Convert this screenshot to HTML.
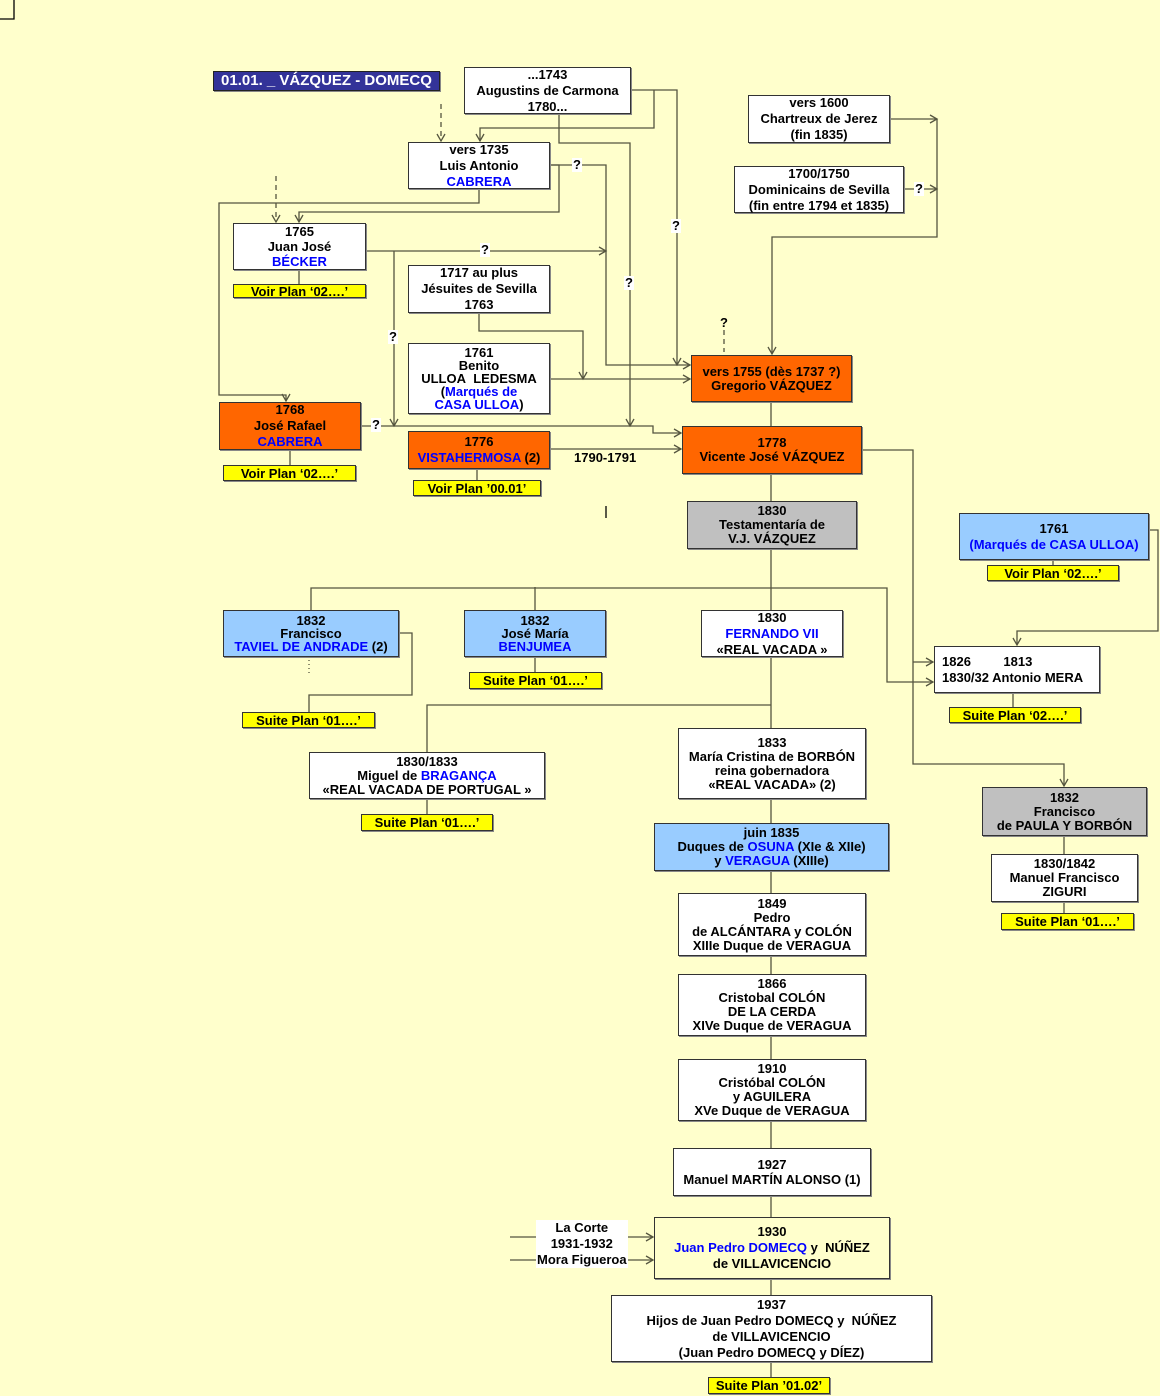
<!DOCTYPE html>
<html><head><meta charset="utf-8"><style>
body{margin:0;width:1160px;height:1396px;background:#ffffcc;position:relative;overflow:hidden;font-family:"Liberation Sans",Arial,sans-serif;font-weight:bold;font-size:13px;color:#000}
.b{position:absolute;box-sizing:border-box;border:1px solid #333;background:#fff;display:flex;justify-content:center;align-items:center;text-align:center;line-height:14px;white-space:nowrap;box-shadow:1px 1px 0 #888}
.o{background:#ff6600}.g{background:#c0c0c0}.c{background:#99ccff}.y{background:#ffff00;line-height:13px}.n{background:#ffffcc}
.u{color:#0000ff}
.q{position:absolute;background:#fff;font-size:13px;line-height:14px;padding:0 1px}
svg{position:absolute;left:0;top:0}
</style></head><body>
<svg width="1160" height="1396" fill="none" stroke="#55553f" stroke-width="1.3">
<defs><marker id="a" markerWidth="10" markerHeight="10" refX="8" refY="5" orient="auto" markerUnits="userSpaceOnUse"><path d="M1,1 L8,5 L1,9" stroke="#55553f" fill="none"/></marker></defs>
<path d="M0,19 H14 V0" stroke="#000"/>
<path d="M631,90 H677 V365" marker-end="url(#a)"/>
<path d="M654,90 V128 H480 V141" marker-end="url(#a)"/>
<path d="M559,114 V143 H630 V426" marker-end="url(#a)"/>
<path d="M441,104 V141" stroke-dasharray="5,4" marker-end="url(#a)"/>
<path d="M276,176 V222" stroke-dasharray="5,4" marker-end="url(#a)"/>
<path d="M550,165 H606 V365 H690" marker-end="url(#a)"/>
<path d="M550,165 H559 V212 H299 V222" marker-end="url(#a)"/>
<path d="M479,189 V203 H219 V395 H286 V401" marker-end="url(#a)"/>
<path d="M366,251 H606" marker-end="url(#a)"/>
<path d="M394,251 V426" marker-end="url(#a)"/>
<path d="M479,313 V331 H583 V379" marker-end="url(#a)"/>
<path d="M550,379 H690" marker-end="url(#a)"/>
<path d="M361,426 H653 V433 H681" marker-end="url(#a)"/>
<path d="M550,449 H681" marker-end="url(#a)"/>
<path d="M771,402 V426 M771,474 V501 M771,549 V610"/>
<path d="M890,119 H937" marker-end="url(#a)"/>
<path d="M904,189 H937" marker-end="url(#a)"/>
<path d="M937,119 V237 H772 V354" marker-end="url(#a)"/>
<path d="M724,330 V352" stroke-dasharray="5,4"/>
<path d="M606,506 V518" stroke="#000"/>
<path d="M862,450 H913 V764 H1064 V786" marker-end="url(#a)"/>
<path d="M311,610 V588 H887 V682 H933" marker-end="url(#a)"/>
<path d="M913,662 H933" marker-end="url(#a)"/>
<path d="M535,587 V610 M535,657 V672"/>
<path d="M1149,530 H1158 V631 H1017 V645" marker-end="url(#a)"/>
<path d="M399,633 H412 V695 H309 V712"/>
<path d="M309,660 V676" stroke-dasharray="1,3"/>
<path d="M771,657 V728 M771,705 H427 V752 M427,799 V814"/>
<path d="M771,799 V823 M771,871 V893 M771,956 V974 M771,1036 V1059 M771,1121 V1148 M771,1196 V1217 M771,1279 V1295 M771,1362 V1377"/>
<path d="M1013,693 V707 M1064,836 V854 M1064,902 V913 M1053,560 V565 M290,450 V465 M477,469 V480 M299,270 V284"/>
<path d="M510,1237 H653" marker-end="url(#a)"/>
<path d="M510,1260 H653" marker-end="url(#a)"/>
</svg>

<div class="b" style="left:213px;top:71px;width:227px;height:20px;background:#333399;color:#fff;font-size:15px;border-color:#222"><div>01.01. _ VÁZQUEZ - DOMECQ</div></div>
<div class="b" style="left:464px;top:67px;width:167px;height:47px;line-height:16px"><div>...1743<br>Augustins de Carmona<br>1780...</div></div>
<div class="b" style="left:408px;top:142px;width:142px;height:47px;line-height:16px"><div>vers 1735<br>Luis Antonio<br><span class="u">CABRERA</span></div></div>
<div class="b" style="left:748px;top:95px;width:142px;height:48px;line-height:16px"><div>vers 1600<br>Chartreux de Jerez<br>(fin 1835)</div></div>
<div class="b" style="left:734px;top:166px;width:170px;height:47px;line-height:16px"><div>1700/1750<br>Dominicains de Sevilla<br>(fin entre 1794 et 1835)</div></div>
<div class="b" style="left:233px;top:223px;width:133px;height:47px;line-height:15px"><div>1765<br>Juan José<br><span class="u">BÉCKER</span></div></div>
<div class="b y" style="left:233px;top:284px;width:133px;height:14px"><div>Voir Plan ‘02….’</div></div>
<div class="b" style="left:408px;top:265px;width:142px;height:48px;line-height:16px"><div>1717 au plus<br>Jésuites de Sevilla<br>1763</div></div>
<div class="b" style="left:408px;top:343px;width:142px;height:71px;line-height:13px"><div>1761<br>Benito<br>ULLOA&nbsp; LEDESMA<br>(<span class="u">Marqués de</span><br><span class="u">CASA ULLOA</span>)</div></div>
<div class="b o" style="left:691px;top:355px;width:161px;height:47px"><div>vers 1755 (dès 1737 ?)<br>Gregorio VÁZQUEZ</div></div>
<div class="b o" style="left:219px;top:402px;width:142px;height:48px;line-height:16px"><div>1768<br>José Rafael<br><span class="u">CABRERA</span></div></div>
<div class="b y" style="left:223px;top:465px;width:133px;height:16px"><div>Voir Plan ‘02….’</div></div>
<div class="b o" style="left:408px;top:431px;width:142px;height:38px;line-height:16px"><div>1776<br><span class="u">VISTAHERMOSA</span> (2)</div></div>
<div class="b y" style="left:413px;top:480px;width:128px;height:16px"><div>Voir Plan ’00.01’</div></div>
<div class="b o" style="left:682px;top:426px;width:180px;height:48px"><div>1778<br>Vicente José VÁZQUEZ</div></div>
<div class="b g" style="left:687px;top:501px;width:170px;height:48px"><div>1830<br>Testamentaría de<br>V.J. VÁZQUEZ</div></div>
<div class="b c" style="left:959px;top:513px;width:190px;height:47px;line-height:16px"><div>1761<br><span class="u">(Marqués de CASA ULLOA)</span></div></div>
<div class="b y" style="left:987px;top:565px;width:132px;height:16px"><div>Voir Plan ‘02….’</div></div>
<div class="b c" style="left:223px;top:610px;width:176px;height:47px;line-height:13px"><div>1832<br>Francisco<br><span class="u">TAVIEL DE ANDRADE</span> (2)</div></div>
<div class="b y" style="left:242px;top:712px;width:133px;height:16px"><div>Suite Plan ‘01….’</div></div>
<div class="b c" style="left:464px;top:610px;width:142px;height:47px;line-height:13px"><div>1832<br>José María<br><span class="u">BENJUMEA</span></div></div>
<div class="b y" style="left:469px;top:672px;width:133px;height:17px"><div>Suite Plan ‘01….’</div></div>
<div class="b" style="left:701px;top:610px;width:142px;height:47px;line-height:16px"><div>1830<br><span class="u">FERNANDO VII</span><br>«REAL VACADA »</div></div>
<div class="b" style="left:934px;top:646px;width:166px;height:47px;justify-content:flex-start;padding-left:7px;text-align:left;line-height:16px"><div>1826&nbsp;&nbsp;&nbsp;&nbsp;&nbsp;&nbsp;&nbsp;&nbsp; 1813<br>1830/32 Antonio MERA</div></div>
<div class="b y" style="left:949px;top:707px;width:132px;height:16px"><div>Suite Plan ‘02….’</div></div>
<div class="b" style="left:309px;top:752px;width:236px;height:47px;line-height:14px"><div>1830/1833<br>Miguel de <span class="u">BRAGANÇA</span><br>«REAL VACADA DE PORTUGAL »</div></div>
<div class="b y" style="left:361px;top:814px;width:132px;height:17px"><div>Suite Plan ‘01….’</div></div>
<div class="b" style="left:678px;top:728px;width:188px;height:71px;line-height:14px"><div>1833<br>María Cristina de BORBÓN<br>reina gobernadora<br>«REAL VACADA» (2)</div></div>
<div class="b g" style="left:982px;top:787px;width:165px;height:49px;line-height:14px"><div>1832<br>Francisco<br>de PAULA Y BORBÓN</div></div>
<div class="b" style="left:991px;top:854px;width:147px;height:48px;line-height:14px"><div>1830/1842<br>Manuel Francisco<br>ZIGURI</div></div>
<div class="b y" style="left:1001px;top:913px;width:133px;height:17px"><div>Suite Plan ‘01….’</div></div>
<div class="b c" style="left:654px;top:823px;width:235px;height:48px;line-height:14px"><div>juin 1835<br>Duques de <span class="u">OSUNA</span> (XIe &amp; XIIe)<br>y <span class="u">VERAGUA</span> (XIIIe)</div></div>
<div class="b" style="left:678px;top:893px;width:188px;height:63px;line-height:14px"><div>1849<br>Pedro<br>de ALCÁNTARA y COLÓN<br>XIIIe Duque de VERAGUA</div></div>
<div class="b" style="left:678px;top:974px;width:188px;height:62px;line-height:14px"><div>1866<br>Cristobal COLÓN<br>DE LA CERDA<br>XIVe Duque de VERAGUA</div></div>
<div class="b" style="left:678px;top:1059px;width:188px;height:62px;line-height:14px"><div>1910<br>Cristóbal COLÓN<br>y AGUILERA<br>XVe Duque de VERAGUA</div></div>
<div class="b" style="left:673px;top:1148px;width:198px;height:48px;line-height:15px"><div>1927<br>Manuel MARTÍN ALONSO (1)</div></div>
<div class="b n" style="left:654px;top:1217px;width:236px;height:62px;line-height:16px"><div>1930<br><span class="u">Juan Pedro DOMECQ</span> y&nbsp; NÚÑEZ<br>de VILLAVICENCIO</div></div>
<div class="b" style="left:611px;top:1295px;width:321px;height:67px;line-height:16px"><div>1937<br>Hijos de Juan Pedro DOMECQ y&nbsp; NÚÑEZ<br>de VILLAVICENCIO<br>(Juan Pedro DOMECQ y DÍEZ)</div></div>
<div class="b y" style="left:708px;top:1377px;width:122px;height:17px"><div>Suite Plan ’01.02’</div></div>

<div class="q" style="left:572px;top:158px">?</div>
<div class="q" style="left:480px;top:243px">?</div>
<div class="q" style="left:388px;top:330px">?</div>
<div class="q" style="left:371px;top:418px">?</div>
<div class="q" style="left:624px;top:276px">?</div>
<div class="q" style="left:671px;top:219px">?</div>
<div class="q" style="left:914px;top:182px">?</div>
<div class="q" style="left:719px;top:316px;background:none">?</div>
<div style="position:absolute;left:574px;top:450px">1790-1791</div>
<div class="q" style="left:536px;top:1220px;text-align:center;line-height:16px">La Corte<br>1931-1932<br>Mora Figueroa</div>
</body></html>
